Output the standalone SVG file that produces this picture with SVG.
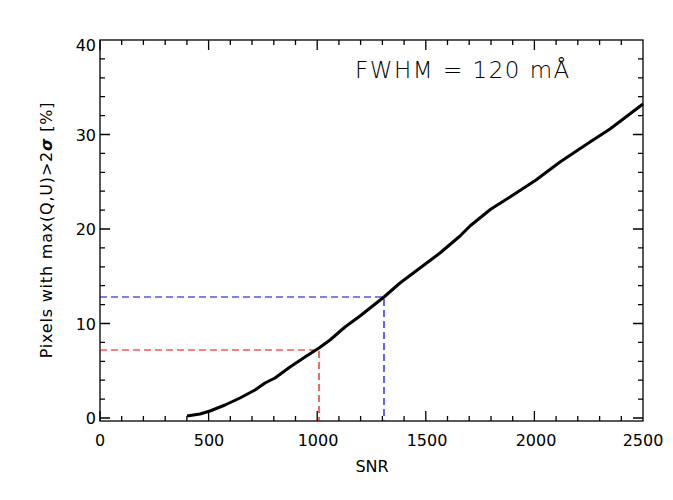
<svg xmlns="http://www.w3.org/2000/svg" width="673" height="500" viewBox="0 0 673 500">
<style>
text{font-family:"DejaVu Sans","Liberation Sans",sans-serif;fill:#000}
.t{font-size:16px}
.ax{fill:none;stroke:#000;stroke-width:1.3}
</style>
<rect width="673" height="500" fill="#fff"/>
<g id="axes">
<rect class="ax" x="100" y="40" width="543" height="381"/>
<path class="ax" d="M100,421v-10M208.6,421v-10M317.2,421v-10M425.8,421v-10M534.4,421v-10M100,40v10M208.6,40v10M317.2,40v10M425.8,40v10M534.4,40v10
M121.7,421v-5M143.4,421v-5M165.2,421v-5M186.9,421v-5M230.3,421v-5M252,421v-5M273.8,421v-5M295.5,421v-5M338.9,421v-5M360.6,421v-5M382.4,421v-5M404.1,421v-5M447.5,421v-5M469.2,421v-5M491,421v-5M512.7,421v-5M556.1,421v-5M577.8,421v-5M599.6,421v-5M621.3,421v-5
M121.7,40v5M143.4,40v5M165.2,40v5M186.9,40v5M230.3,40v5M252,40v5M273.8,40v5M295.5,40v5M338.9,40v5M360.6,40v5M382.4,40v5M404.1,40v5M447.5,40v5M469.2,40v5M491,40v5M512.7,40v5M556.1,40v5M577.8,40v5M599.6,40v5M621.3,40v5
M100,418h10M100,323.5h10M100,229h10M100,134.5h10M643,418h-10M643,323.5h-10M643,229h-10M643,134.5h-10
M100,399.1h5M100,380.2h5M100,361.3h5M100,342.4h5M100,304.6h5M100,285.7h5M100,266.8h5M100,247.9h5M100,210.1h5M100,191.2h5M100,172.3h5M100,153.4h5M100,115.6h5M100,96.7h5M100,77.8h5M100,58.9h5
M643,399.1h-5M643,380.2h-5M643,361.3h-5M643,342.4h-5M643,304.6h-5M643,285.7h-5M643,266.8h-5M643,247.9h-5M643,210.1h-5M643,191.2h-5M643,172.3h-5M643,153.4h-5M643,115.6h-5M643,96.7h-5M643,77.8h-5M643,58.9h-5"/>
<g class="t" text-anchor="middle">
<text x="100" y="446">0</text><text x="209" y="446">500</text><text x="318" y="446">1000</text><text x="427" y="446">1500</text><text x="536" y="446">2000</text><text x="643" y="446">2500</text>
<text x="372" y="472">SNR</text>
</g>
<g class="t" text-anchor="end">
<text x="96" y="424">0</text><text x="96" y="330">10</text><text x="96" y="235">20</text><text x="96" y="141">30</text><text x="96" y="51">40</text>
</g>
<text class="t" transform="translate(52,230) rotate(-90)" text-anchor="middle" letter-spacing="0.8">Pixels with max(Q,U)&gt;2<tspan font-style="italic" font-weight="bold">σ</tspan>  [%]</text>
<text x="355" y="78" font-size="23" letter-spacing="1.5" font-weight="300">FWHM = 120 mÅ</text>
</g>
<g id="connectors">
<path d="M100,350H319V421" fill="none" stroke="#e00" stroke-width="1.2" stroke-dasharray="7,4"/>
<path d="M100,297H384V421" fill="none" stroke="#00c" stroke-width="1.2" stroke-dasharray="7,4"/>
<path d="M187,416L200,414L210,411L225,405L240,398L255,390L265,383L275,378L290,367L305,357L319,348L330,340L345,327L360,316L384,297L400,283L420,268L440,253L460,236L470,226L491,209L510,197L536,180L560,162L590,142L610,129L643,104" fill="none" stroke="#000" stroke-width="3" stroke-linejoin="round"/>
</g>
</svg>
